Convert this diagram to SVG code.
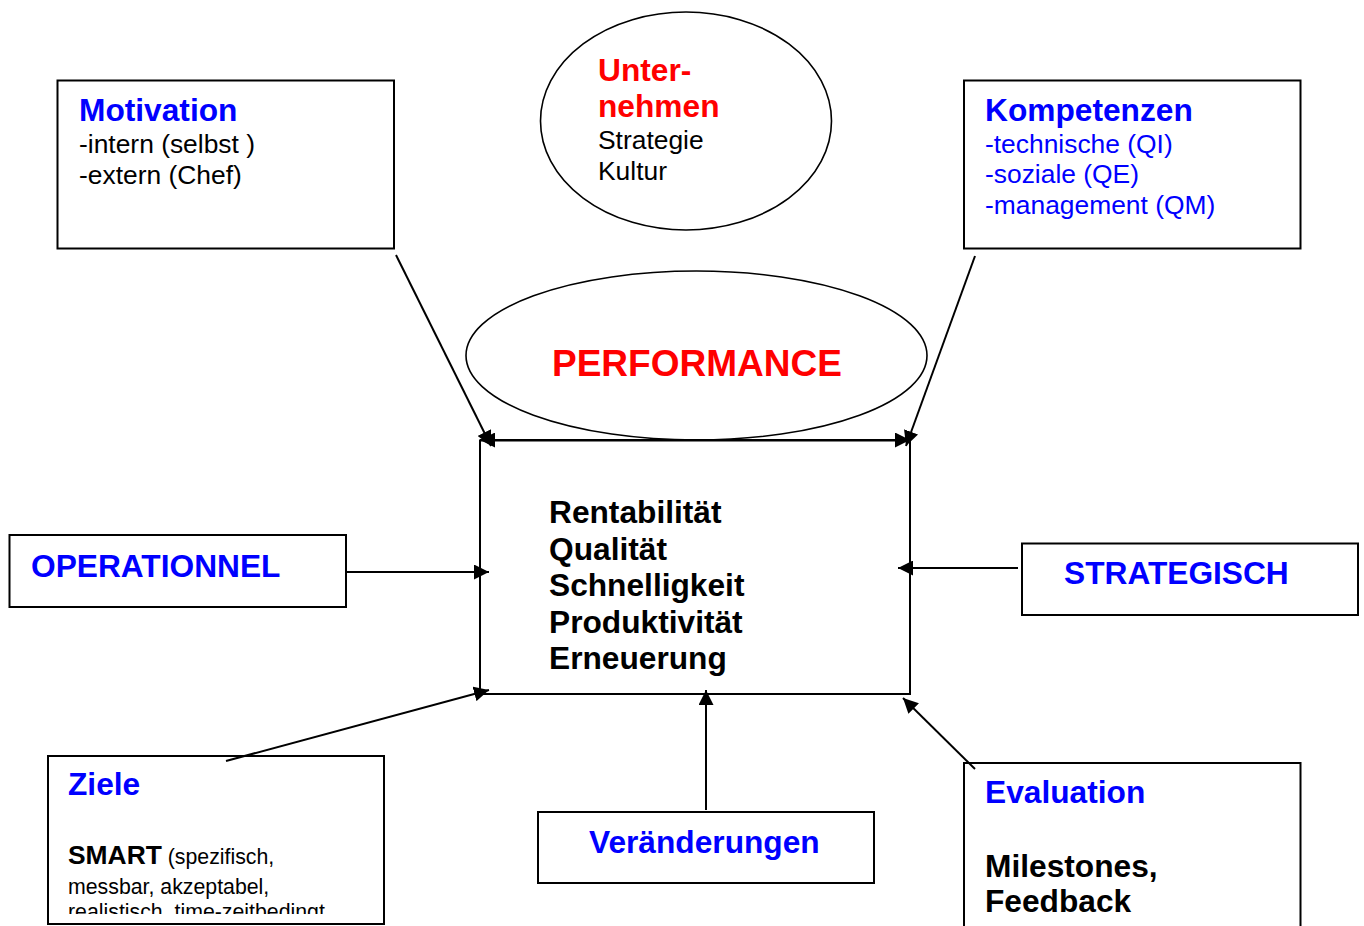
<svg xmlns="http://www.w3.org/2000/svg" width="1364" height="926" viewBox="0 0 1364 926">
<style>
.box{fill:#fff;stroke:#000;stroke-width:2}
.ell{fill:none;stroke:#000;stroke-width:1.6}
.con{stroke:#000;stroke-width:2;fill:none}
text{font-family:"Liberation Sans",Arial,sans-serif}
.h{font-weight:bold;font-size:31.7px}
.r{font-size:26.4px}
.blue{fill:#0000ff}
.red{fill:#ff0000}
.blk{fill:#000}
</style>
<defs>
<marker id="arr" markerUnits="userSpaceOnUse" markerWidth="15" markerHeight="15" refX="15" refY="7.5" orient="auto-start-reverse" viewBox="0 0 15 15">
<path d="M0,0 L15,7.5 L0,15 z" fill="#000"/>
</marker>
<clipPath id="zclip"><rect x="40" y="750" width="350" height="164"/></clipPath>
</defs>
<rect width="1364" height="926" fill="#fff"/>

<g id="unternehmen">
<ellipse class="ell" cx="686" cy="121" rx="145.5" ry="109"/>
<text class="h red" x="598" y="81">Unter-</text>
<text class="h red" x="598" y="117">nehmen</text>
<text class="r blk" x="598" y="149">Strategie</text>
<text class="r blk" x="598" y="180">Kultur</text>
</g>

<g id="motivation">
<rect class="box" x="57.5" y="80.5" width="336.5" height="168"/>
<text class="h blue" x="79" y="121">Motivation</text>
<text class="r blk" x="79" y="153">-intern (selbst )</text>
<text class="r blk" x="79" y="184">-extern (Chef)</text>
</g>

<g id="kompetenzen">
<rect class="box" x="964" y="80.5" width="336.5" height="168"/>
<text class="h blue" x="985" y="121">Kompetenzen</text>
<text class="r blue" x="985" y="152.5">-technische (QI)</text>
<text class="r blue" x="985" y="183">-soziale (QE)</text>
<text class="r blue" x="985" y="213.5">-management (QM)</text>
</g>

<g id="main">
<rect class="box" x="480" y="440.5" width="430" height="253.5"/>
<text class="h blk" x="549" y="523">Rentabilität</text>
<text class="h blk" x="549" y="559.5">Qualität</text>
<text class="h blk" x="549" y="596">Schnelligkeit</text>
<text class="h blk" x="549" y="632.5">Produktivität</text>
<text class="h blk" x="549" y="669">Erneuerung</text>
</g>

<g id="performance">
<ellipse class="ell" cx="696.5" cy="355.5" rx="230.5" ry="84.5"/>
<text x="552" y="376" font-weight="bold" font-size="37" class="red">PERFORMANCE</text>
</g>

<g id="operationnel">
<rect class="box" x="9.5" y="535" width="336.5" height="72"/>
<text class="h blue" x="31" y="577">OPERATIONNEL</text>
</g>

<g id="strategisch">
<rect class="box" x="1022" y="543.5" width="336" height="71.5"/>
<text class="h blue" x="1064" y="584">STRATEGISCH</text>
</g>

<g id="ziele">
<rect class="box" x="48" y="756" width="336" height="168"/>
<g clip-path="url(#zclip)">
<text class="h blue" x="68" y="795">Ziele</text>
<text x="68" y="864"><tspan font-weight="bold" font-size="26.4">SMART</tspan><tspan font-size="21.3"> (spezifisch,</tspan></text>
<text x="68" y="894" font-size="21.3">messbar, akzeptabel,</text>
<text x="68" y="918.5" font-size="21.3">realistisch, time-zeitbedingt</text>
</g>
</g>

<g id="veraenderungen">
<rect class="box" x="538" y="812" width="336" height="71"/>
<text class="h blue" x="589" y="853">Veränderungen</text>
</g>

<g id="evaluation">
<rect class="box" x="964" y="763" width="336.5" height="180"/>
<text class="h blue" x="985" y="803">Evaluation</text>
<text class="h blk" x="985" y="877">Milestones,</text>
<text class="h blk" x="985" y="912">Feedback</text>
</g>

<g id="connectors">
<line class="con" x1="480" y1="440" x2="910" y2="440" marker-start="url(#arr)" marker-end="url(#arr)"/>
<line class="con" x1="396" y1="255" x2="491" y2="446" marker-end="url(#arr)"/>
<line class="con" x1="975" y1="256" x2="906" y2="446" marker-end="url(#arr)"/>
<line class="con" x1="346" y1="572" x2="489" y2="572" marker-end="url(#arr)"/>
<line class="con" x1="1018" y1="568" x2="898" y2="568" marker-end="url(#arr)"/>
<line class="con" x1="226" y1="761" x2="489" y2="690" marker-end="url(#arr)"/>
<line class="con" x1="706" y1="810" x2="706" y2="690" marker-end="url(#arr)"/>
<line class="con" x1="975" y1="769" x2="903" y2="698" marker-end="url(#arr)"/>
</g>
</svg>
